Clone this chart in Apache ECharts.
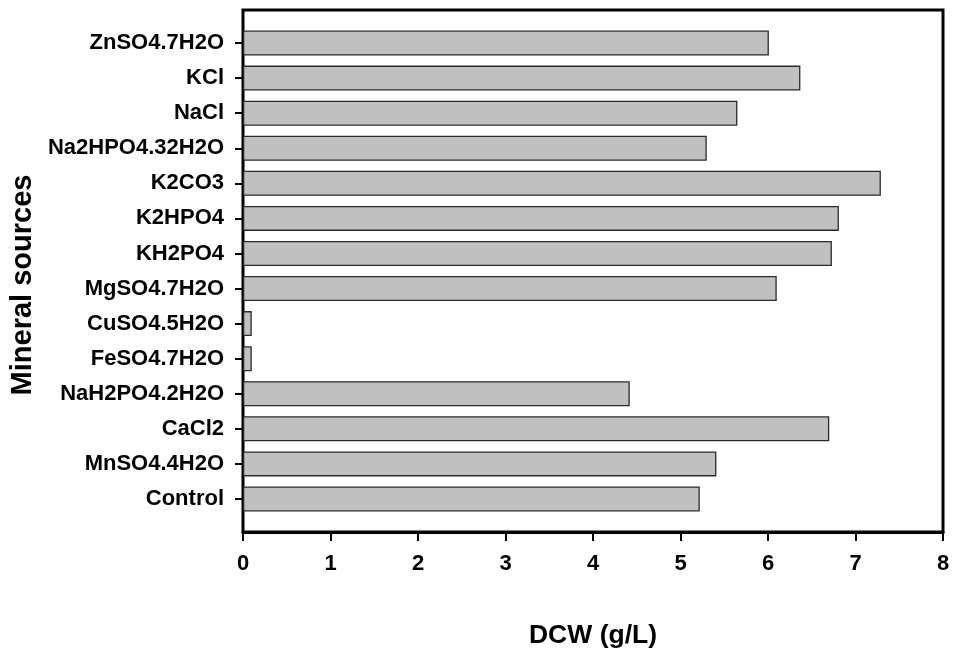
<!DOCTYPE html>
<html>
<head>
<meta charset="utf-8">
<script src="https://cdn.jsdelivr.net/npm/echarts@6/dist/echarts.min.js"></script>
<style>
  html, body { margin: 0; padding: 0; background: #fff; }
  #chart { width: 956px; height: 656px; }
</style>
</head>
<body>
<div id="chart"></div>
<script>
// Mineral sources, listed top to bottom
const categories = [
  'ZnSO4.7H2O', 'KCl', 'NaCl', 'Na2HPO4.32H2O', 'K2CO3', 'K2HPO4', 'KH2PO4',
  'MgSO4.7H2O', 'CuSO4.5H2O', 'FeSO4.7H2O', 'NaH2PO4.2H2O', 'CaCl2',
  'MnSO4.4H2O', 'Control'
];
// Dry cell weight, g/L
const dcw = [6.01, 6.37, 5.65, 5.30, 7.29, 6.81, 6.73, 6.10, 0.10, 0.10, 4.42, 6.70, 5.41, 5.22];
const xTicks = { min: 0, max: 8, interval: 1 };

const FONT = '"Liberation Sans", Arial, sans-serif';

const chart = echarts.init(document.getElementById('chart'), null, { renderer: 'canvas' });

chart.setOption({
  animation: false,
  backgroundColor: '#fff',
  grid: [
    // frame + value axis
    { left: 243, right: 13, top: 10, bottom: 124, show: true, borderColor: '#000', borderWidth: 3, backgroundColor: 'transparent' },
    // bars, inset from the frame top and bottom
    { left: 243, right: 13, top: 25.5, height: 491 }
  ],
  xAxis: [
    {
      gridIndex: 0, type: 'value', min: xTicks.min, max: xTicks.max, interval: xTicks.interval,
      name: 'DCW (g/L)', nameLocation: 'middle', nameGap: 90,
      nameTextStyle: { fontFamily: FONT, fontWeight: 'bold', fontSize: 26.5, color: '#000' },
      axisLine: { show: true, lineStyle: { color: '#000', width: 3 } },
      axisTick: { show: true, length: 9, lineStyle: { color: '#000', width: 2 } },
      axisLabel: { margin: 21, fontFamily: FONT, fontWeight: 'bold', fontSize: 22, color: '#000' },
      splitLine: { show: false }
    },
    {
      gridIndex: 1, type: 'value', min: xTicks.min, max: xTicks.max, interval: xTicks.interval,
      show: false
    }
  ],
  yAxis: [
    { gridIndex: 0, type: 'value', show: false },
    {
      gridIndex: 1, type: 'category', data: categories, inverse: true,
      axisLine: { show: false },
      axisTick: { show: true, alignWithLabel: true, length: 8, lineStyle: { color: '#000', width: 2 } },
      axisLabel: { margin: 19, fontFamily: FONT, fontWeight: 'bold', fontSize: 22, color: '#000' },
      splitLine: { show: false }
    }
  ],
  series: [{
    type: 'bar',
    xAxisIndex: 1, yAxisIndex: 1,
    data: dcw,
    barWidth: 25,
    itemStyle: { color: '#c0c0c0', borderColor: '#2a2a2a', borderWidth: 1.3 }
  }],
  graphic: [{
    type: 'text',
    x: 23, y: 285, rotation: Math.PI / 2,
    style: {
      text: 'Mineral sources', fontFamily: FONT, fontWeight: 'bold', fontSize: 29,
      fill: '#000', textAlign: 'center', textVerticalAlign: 'middle'
    }
  }]
});
</script>
</body>
</html>
